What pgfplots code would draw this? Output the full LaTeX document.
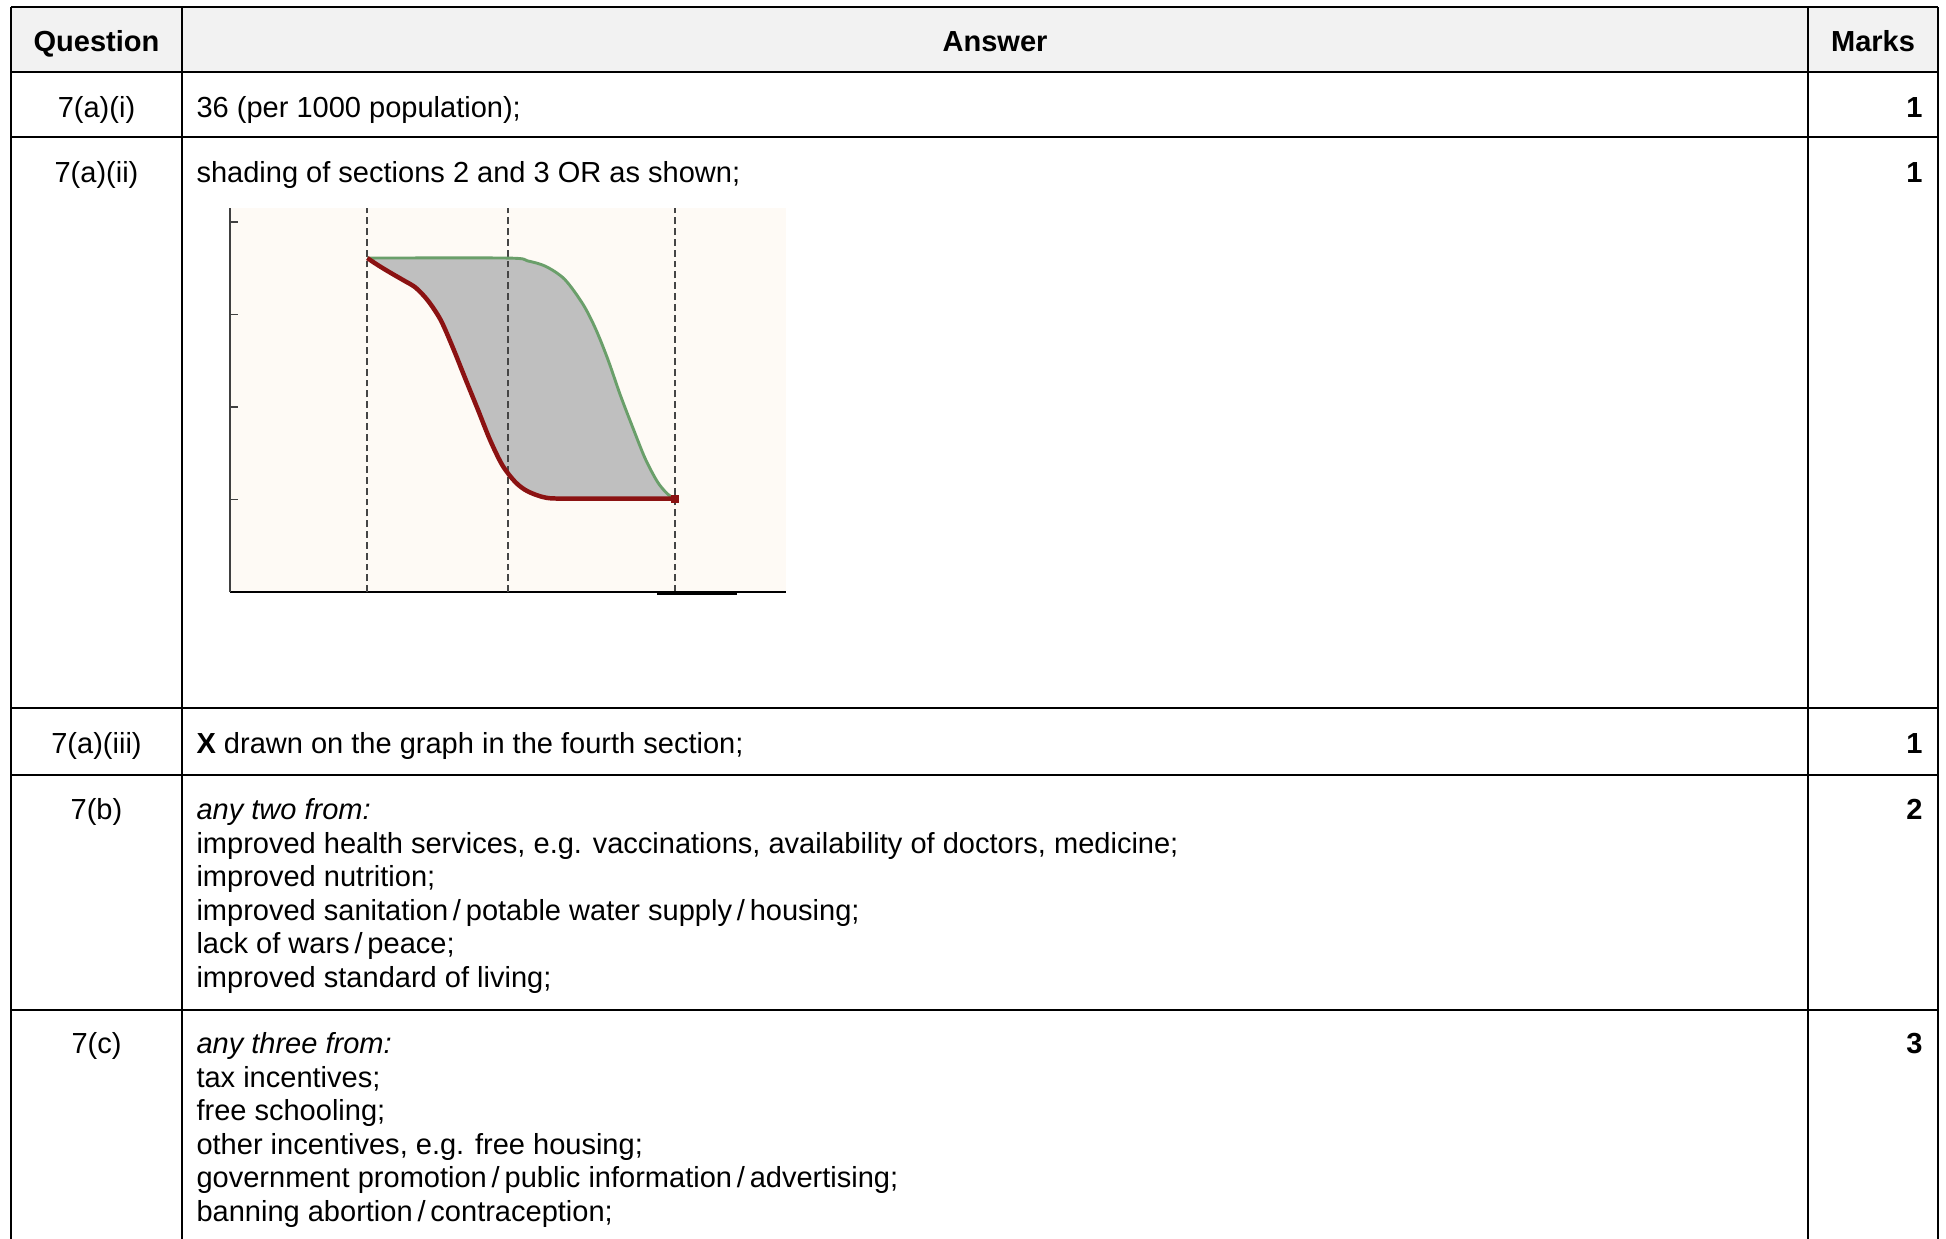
\documentclass[border=0pt]{standalone}
\usepackage{fontspec}
\setmainfont{Liberation Sans}
\usepackage{pgfplots}
\pgfplotsset{compat=1.18}
\usepackage{pgfplotstable}
\usepgfplotslibrary{fillbetween}

\definecolor{hdrgray}{HTML}{F2F2F2}
\definecolor{dtmred}{HTML}{8B1212}
\definecolor{dtmgreen}{HTML}{6A9F6A}
\definecolor{dtmfill}{HTML}{BFBFBF}
\definecolor{dashgray}{HTML}{454545}
\definecolor{paper}{HTML}{FEFAF5}

% death rate (red), per 1000 population
\pgfplotstableread{
x y
24.7 36.1
26.7 35.3
28.9 34.5
31.2 33.7
33.4 32.9
35.6 31.5
37.9 29.4
40.1 26.4
42.3 23.1
44.6 19.7
46.8 16.4
49.0 13.7
51.3 11.9
53.5 10.9
56.8 10.2
61.3 10.1
80.0 10.1
}\deathrate

% birth rate (green), per 1000 population
\pgfplotstableread{
x y
24.7 36.1
49.9 36.1
53.5 35.8
56.8 35.2
60.2 33.8
63.5 31.1
65.8 28.4
68.0 25.1
70.2 21.3
72.5 17.7
74.7 14.4
76.9 11.9
78.7 10.6
80.0 10.1
}\birthrate

\begin{document}
\begin{tikzpicture}[font=\fontsize{11}{12.7}\selectfont]
\begin{scope}[x=0.379pt,y=-0.379pt]
  \useasboundingbox (0,0) rectangle (1946,1238);
  \fill[hdrgray] (11,7) rectangle (1938,72);
  \foreach \yy in {7,72,137,708,775,1010}
    \draw[line width=0.75pt] (11,\yy) -- (1938,\yy);
  \foreach \xx in {11,182,1808,1938}
    \draw[line width=0.75pt] (\xx,7) -- (\xx,1245);

  \tikzset{every node/.style={inner sep=0pt}}
  % header
  \node[anchor=base] at (96.5,51) {\bfseries Question};
  \node[anchor=base] at (995,51) {\bfseries Answer};
  \node[anchor=base] at (1873,51) {\bfseries Marks};
  % 7(a)(i)
  \node[anchor=base] at (96.5,117) {7(a)(i)};
  \node[anchor=base west] at (196,117) {36 (per 1000 population);};
  \node[anchor=base east] at (1923,117) {\bfseries 1};
  % 7(a)(ii)
  \node[anchor=base] at (96.5,182) {7(a)(ii)};
  \node[anchor=base west] at (196,182) {shading of sections 2 and 3 OR as shown;};
  \node[anchor=base east] at (1923,182) {\bfseries 1};
  % 7(a)(iii)
  \node[anchor=base] at (96.5,753) {7(a)(iii)};
  \node[anchor=base west] at (196,753) {\textbf{X} drawn on the graph in the fourth section;};
  \node[anchor=base east] at (1923,753) {\bfseries 1};
  % 7(b)
  \node[anchor=base] at (96.5,819) {7(b)};
  \node[anchor=base east] at (1923,819) {\bfseries 2};
  \node[anchor=base west] at (196,819) {\itshape any two from:};
  \node[anchor=base west] at (196,853) {improved health services, e.g. vaccinations, availability of doctors, medicine;};
  \node[anchor=base west] at (196,886) {improved nutrition;};
  \node[anchor=base west] at (196,920) {improved sanitation\,/\,potable water supply\,/\,housing;};
  \node[anchor=base west] at (196,953) {lack of wars\,/\,peace;};
  \node[anchor=base west] at (196,987) {improved standard of living;};
  % 7(c)
  \node[anchor=base] at (96.5,1053) {7(c)};
  \node[anchor=base east] at (1923,1053) {\bfseries 3};
  \node[anchor=base west] at (196,1053) {\itshape any three from:};
  \node[anchor=base west] at (196,1087) {tax incentives;};
  \node[anchor=base west] at (196,1120) {free schooling;};
  \node[anchor=base west] at (196,1154) {other incentives, e.g. free housing;};
  \node[anchor=base west] at (196,1187) {government promotion\,/\,public information\,/\,advertising;};
  \node[anchor=base west] at (196,1221) {banning abortion\,/\,contraception;};
\end{scope}

\begin{axis}[
  at={(87.17pt,-224.37pt)}, anchor=south west,
  scale only axis, width=210.7pt, height=145.5pt,
  xmin=0, xmax=100, ymin=0, ymax=41.5,
  axis background/.style={fill=paper},
  axis x line=bottom, axis y line=left,
  axis line style={-},
  x axis line style={line width=1.1pt, black},
  y axis line style={line width=0.6pt, black!75},
  xtick=\empty, ytick={10,20,30,40}, yticklabels={},
  tick align=inside, major tick length=3pt,
  tick style={black!75, line width=0.6pt},
  clip=false
]
  % section boundaries
  \addplot[dashgray, line width=0.85pt, dash pattern=on 2.6pt off 1.5pt] coordinates {(24.6,0) (24.6,41.5)};
  \addplot[dashgray, line width=0.85pt, dash pattern=on 2.6pt off 1.5pt] coordinates {(50.0,0) (50.0,41.5)};
  \addplot[dashgray, line width=0.85pt, dash pattern=on 2.6pt off 1.5pt] coordinates {(80.0,0) (80.0,41.5)};
  % shaded sections
  \addplot[name path=birth, draw=none, smooth] table {\birthrate};
  \addplot[name path=death, draw=none, smooth] table {\deathrate};
  \addplot[dtmfill, draw=none] fill between[of=birth and death];
  \addplot[dtmgreen, line width=1.1pt, smooth] table {\birthrate};
  \addplot[dtmred, line width=1.7pt, smooth] table {\deathrate};
  \addplot[dtmred, only marks, mark=square*, mark size=1.3pt] coordinates {(80.0,10.1)};
  \addplot[black, line width=1.6pt, yshift=-0.4pt] coordinates {(76.8,0) (91.2,0)};
\end{axis}
\end{tikzpicture}
\end{document}
